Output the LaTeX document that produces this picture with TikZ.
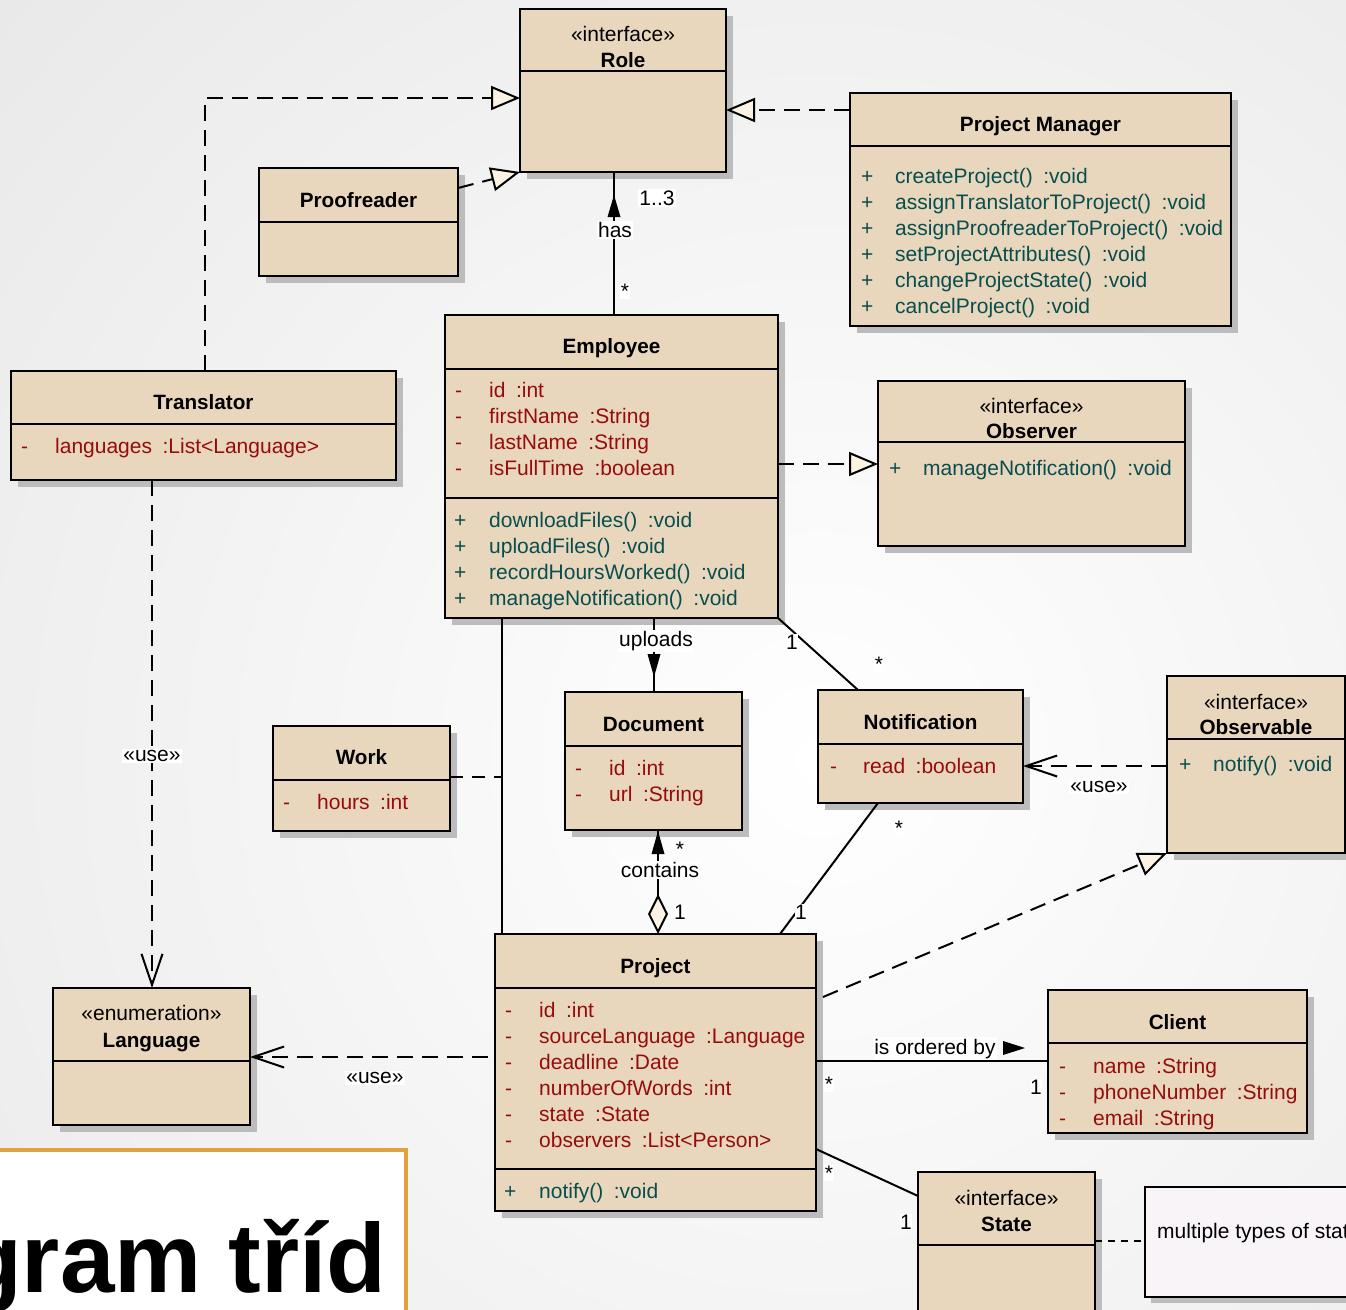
\documentclass[tikz,border=0pt]{standalone}
\usepackage{fontspec}
\setmainfont{Liberation Sans}
\usetikzlibrary{arrows.meta,shadows}
\definecolor{boxfill}{RGB}{232,215,189}
\definecolor{attrc}{RGB}{150,12,12}
\definecolor{methc}{RGB}{8,78,78}
\definecolor{tipfill}{RGB}{253,243,228}
\definecolor{shadowc}{RGB}{188,188,188}
\definecolor{titleorange}{RGB}{224,162,62}
\definecolor{notefill}{RGB}{248,244,248}
\newcommand\fs{\fontsize{21pt}{24pt}\selectfont}
\newcommand\fb{\fontsize{20.7pt}{24pt}\selectfont\bfseries}
\newcommand\gp{\hspace{0.5em}}
\tikzset{
  cls/.style={draw=black, line width=2pt, fill=boxfill, rectangle, inner sep=0pt, outer sep=0pt, anchor=north west,
    drop shadow={shadow xshift=7pt, shadow yshift=-7pt, fill=shadowc, opacity=1}},
  notebox/.style={draw=black, line width=2pt, fill=notefill, rectangle, inner sep=0pt, outer sep=0pt, anchor=north west,
    drop shadow={shadow xshift=6pt, shadow yshift=-6pt, fill=shadowc, opacity=1}},
  divline/.style={line width=2pt},
  ttl/.style={font=\fb, anchor=base, inner sep=0pt},
  stereo/.style={font=\fs, anchor=base, inner sep=0pt},
  attr/.style={font=\fs, text=attrc, anchor=base west, inner sep=0pt},
  meth/.style={font=\fs, text=methc, anchor=base west, inner sep=0pt},
  lbl/.style={font=\fs, fill=white, inner sep=1.5pt},
  mult/.style={font=\fs, fill=white, inner sep=0.5pt},
  assoc/.style={line width=2pt},
  dashline/.style={line width=2pt, dash pattern=on 16pt off 9pt},
  real/.style={dashline, -{Triangle[length=29pt,width=24pt,fill=tipfill]}},
  dep/.style={dashline, -{Straight Barb[length=31pt,width=21pt]}},
  notedash/.style={line width=2pt, dash pattern=on 7pt off 6pt},
}
\begin{document}
\begin{tikzpicture}[x=1pt,y=-1pt]
\useasboundingbox (0,0) rectangle (1346,1309);
\clip (0,0) rectangle (1346,1309);
\shade[inner color=white, outer color=gray!34] (820,760) circle (2200);

% ---------- class boxes ----------
\node[cls, minimum width=206pt, minimum height=163pt] (role) at (520,9) {};
\draw[divline] ([yshift=-62pt]role.north west) -- ([yshift=-62pt]role.north east);
\node[stereo] (rolest) at (role.north |- 0,41) {«interface»};
\node[ttl] (rolet) at (role.north |- 0,67) {Role};

\node[cls, minimum width=381pt, minimum height=233pt] (pm) at (850,93) {};
\draw[divline] ([yshift=-53pt]pm.north west) -- ([yshift=-53pt]pm.north east);
\node[ttl] (pmt) at (pm.north |- 0,131) {Project Manager};
\foreach \t [count=\i from 0] in {createProject()\gp:void, assignTranslatorToProject()\gp:void,
  assignProofreaderToProject()\gp:void, setProjectAttributes()\gp:void,
  changeProjectState()\gp:void, cancelProject()\gp:void} {
  \node[meth] (pms\i) at (861,183+26*\i) {+};
  \node[meth] (pmm\i) at (895,183+26*\i) {\t};
}

\node[cls, minimum width=199pt, minimum height=108pt] (proof) at (259,168) {};
\draw[divline] ([yshift=-54pt]proof.north west) -- ([yshift=-54pt]proof.north east);
\node[ttl] (prooft) at (proof.north |- 0,207) {Proofreader};

\node[cls, minimum width=385pt, minimum height=109pt] (trans) at (11,371) {};
\draw[divline] ([yshift=-53pt]trans.north west) -- ([yshift=-53pt]trans.north east);
\node[ttl] (transt) at (trans.north |- 0,409) {Translator};
\node[attr] (transs0) at (21,453) {-};
\node[attr] (transa0) at (55,453) {languages\gp:List<Language>};

\node[cls, minimum width=333pt, minimum height=303pt] (emp) at (445,315) {};
\draw[divline] ([yshift=-54pt]emp.north west) -- ([yshift=-54pt]emp.north east);
\draw[divline] ([yshift=-183pt]emp.north west) -- ([yshift=-183pt]emp.north east);
\node[ttl] (empt) at (emp.north |- 0,353) {Employee};
\foreach \t [count=\i from 0] in {id\gp:int, firstName\gp:String, lastName\gp:String, isFullTime\gp:boolean} {
  \node[attr] (emps\i) at (455,397+26*\i) {-};
  \node[attr] (empa\i) at (489,397+26*\i) {\t};
}
\foreach \t [count=\i from 0] in {downloadFiles()\gp:void, uploadFiles()\gp:void, recordHoursWorked()\gp:void, manageNotification()\gp:void} {
  \node[meth] (empp\i) at (454,527+26*\i) {+};
  \node[meth] (empm\i) at (489,527+26*\i) {\t};
}

\node[cls, minimum width=307pt, minimum height=165pt] (obs) at (878,381) {};
\draw[divline] ([yshift=-61pt]obs.north west) -- ([yshift=-61pt]obs.north east);
\node[stereo] (obsst) at (obs.north |- 0,413) {«interface»};
\node[ttl] (obst) at (obs.north |- 0,438) {Observer};
\node[meth] (obsp0) at (889,475) {+};
\node[meth] (obsm0) at (923,475) {manageNotification()\gp:void};

\node[cls, minimum width=177pt, minimum height=105pt] (work) at (273,726) {};
\draw[divline] ([yshift=-54pt]work.north west) -- ([yshift=-54pt]work.north east);
\node[ttl] (workt) at (work.north |- 0,764) {Work};
\node[attr] (works0) at (283,809) {-};
\node[attr] (worka0) at (317,809) {hours\gp:int};

\node[cls, minimum width=177pt, minimum height=138pt] (doc) at (565,692) {};
\draw[divline] ([yshift=-54pt]doc.north west) -- ([yshift=-54pt]doc.north east);
\node[ttl] (doct) at (doc.north |- 0,731) {Document};
\node[attr] (docs0) at (575,775) {-};
\node[attr] (doca0) at (609,775) {id\gp:int};
\node[attr] (docs1) at (575,801) {-};
\node[attr] (doca1) at (609,801) {url\gp:String};

\node[cls, minimum width=205pt, minimum height=113pt] (notif) at (818,690) {};
\draw[divline] ([yshift=-54pt]notif.north west) -- ([yshift=-54pt]notif.north east);
\node[ttl] (notift) at (notif.north |- 0,729) {Notification};
\node[attr] (notifs0) at (830,773) {-};
\node[attr] (notifa0) at (863,773) {read\gp:boolean};

\node[cls, minimum width=178pt, minimum height=177pt] (obsable) at (1167,676) {};
\draw[divline] ([yshift=-63pt]obsable.north west) -- ([yshift=-63pt]obsable.north east);
\node[stereo] (obsablest) at (obsable.north |- 0,709) {«interface»};
\node[ttl] (obsablet) at (obsable.north |- 0,734) {Observable};
\node[meth] (obsablep0) at (1179,771) {+};
\node[meth] (obsablem0) at (1213,771) {notify()\gp:void};

\node[cls, minimum width=321pt, minimum height=277pt] (proj) at (495,934) {};
\draw[divline] ([yshift=-54pt]proj.north west) -- ([yshift=-54pt]proj.north east);
\draw[divline] ([yshift=-235pt]proj.north west) -- ([yshift=-235pt]proj.north east);
\node[ttl] (projt) at (proj.north |- 0,973) {Project};
\foreach \t [count=\i from 0] in {id\gp:int, sourceLanguage\gp:Language, deadline\gp:Date,
  numberOfWords\gp:int, state\gp:State, observers\gp:List<Person>} {
  \node[attr] (projs\i) at (505,1017+26*\i) {-};
  \node[attr] (proja\i) at (539,1017+26*\i) {\t};
}
\node[meth] (projp0) at (504,1198) {+};
\node[meth] (projm0) at (539,1198) {notify()\gp:void};

\node[cls, minimum width=197pt, minimum height=137pt] (lang) at (53,988) {};
\draw[divline] ([yshift=-73pt]lang.north west) -- ([yshift=-73pt]lang.north east);
\node[stereo] (langst) at (lang.north |- 0,1020) {«enumeration»};
\node[ttl] (langt) at (lang.north |- 0,1047) {Language};

\node[cls, minimum width=259pt, minimum height=143pt] (client) at (1048,990) {};
\draw[divline] ([yshift=-53pt]client.north west) -- ([yshift=-53pt]client.north east);
\node[ttl] (clientt) at (client.north |- 0,1029) {Client};
\foreach \t [count=\i from 0] in {name\gp:String, phoneNumber\gp:String, email\gp:String} {
  \node[attr] (clients\i) at (1059,1073+26*\i) {-};
  \node[attr] (clienta\i) at (1093,1073+26*\i) {\t};
}

\node[cls, minimum width=177pt, minimum height=160pt] (state) at (918,1172) {};
\draw[divline] ([yshift=-73pt]state.north west) -- ([yshift=-73pt]state.north east);
\node[stereo] (statest) at (state.north |- 0,1205) {«interface»};
\node[ttl] (statet) at (state.north |- 0,1231) {State};

\node[notebox, minimum width=240pt, minimum height=110pt] (note) at (1145,1187) {};
\node[font=\fs, anchor=base west, inner sep=0pt] (notet) at (1157,1238) {multiple types of states};

% ---------- connectors ----------
\draw[real] (trans.north -| 205,0) |- (role.west |- 0,98);
\draw[real] (proof.east |- 0,188) -- (role.south west);
\draw[real] (pm.west |- 0,110) -- (role.east |- 0,110);

\draw[assoc] (emp.north -| 614,0) -- (role.south -| 614,0);
\node[lbl] (haslbl) at (615,230) {has};
\fill (614,195) -- (607.5,217) -- (620.5,217) -- cycle;
\node[lbl] (m13) at (657,198) {1..3};
\node[mult] (mstar1) at (625,291) {*};

\draw[real] (emp.east |- 0,464) -- (obs.west |- 0,464);

\draw[dep] (trans.south -| 152,0) -- (lang.north -| 152,0);
\node[lbl] (use1) at (152,756) {«use»};

\draw[assoc] (emp.south -| 654,0) -- (doc.north -| 654,0);
\node[lbl] (upl) at (656,641) {uploads};
\fill (647.5,654) -- (660.5,654) -- (654,677) -- cycle;

\draw[assoc] (emp.south east) -- (notif.north -| 858,0);
\node[mult] (m1a) at (792,642) {1};
\node[mult] (mstar2) at (879,664) {*};

\draw[assoc] (emp.south -| 502,0) -- (proj.north -| 502,0);
\coordinate (wj) at (502,777);
\draw[dashline, dash pattern=on 13pt off 9pt] (work.east |- wj) -- (wj);

\draw[assoc, {Diamond[length=40pt,width=20pt,fill=tipfill]}-] (proj.north -| 658,0) -- (doc.south -| 658,0);
\fill (658,831) -- (651.5,854) -- (664.5,854) -- cycle;
\node[lbl, inner sep=1pt] (cont) at (660,870) {contains};
\node[font=\fs, inner sep=0pt] (mstar3) at (680,849) {*};
\node[mult] (m1b) at (680,912) {1};

\draw[assoc] (notif.south -| 878,0) -- (proj.north -| 780,0);
\node[mult] (mstar4) at (899,828) {*};
\node[mult] (m1c) at (801,912) {1};

\draw[dep] (obsable.west |- 0,766) -- (notif.east |- 0,766);
\node[lbl] (use2) at (1099,787) {«use»};

\draw[real] ([shift={(7pt,-63pt)}]proj.north east) -- (obsable.south west);

\draw[dep] ([xshift=-7pt]proj.west |- 0,1057) -- (lang.east |- 0,1057);
\node[lbl] (use3) at (375,1078) {«use»};

\draw[assoc] (proj.east |- 0,1061) -- (client.west |- 0,1061);
\node[lbl, anchor=base] (ordlbl) at (935,1054) {is ordered by};
\fill (1003,1041) -- (1025,1048) -- (1003,1055) -- cycle;
\node[mult] (mstar5) at (829,1084) {*};
\node[mult] (m1d) at (1036,1087) {1};

\draw[assoc] (proj.east |- 0,1149) -- (state.west |- 0,1196);
\node[mult] (mstar6) at (829,1173) {*};
\node[mult] (m1e) at (906,1222) {1};

\draw[notedash] (state.east |- 0,1241) -- (note.west |- 0,1241);

% ---------- title box ----------
\node[draw=titleorange, line width=4pt, fill=white, rectangle, inner sep=0pt, outer sep=0pt,
  anchor=north west, minimum width=426pt, minimum height=200pt] (titlebox) at (-20,1150) {};
\node[font=\fontsize{98pt}{110pt}\selectfont\bfseries, anchor=base east, inner sep=0pt] (titletext) at (387,1292) {gram tříd};
\end{tikzpicture}
\end{document}
